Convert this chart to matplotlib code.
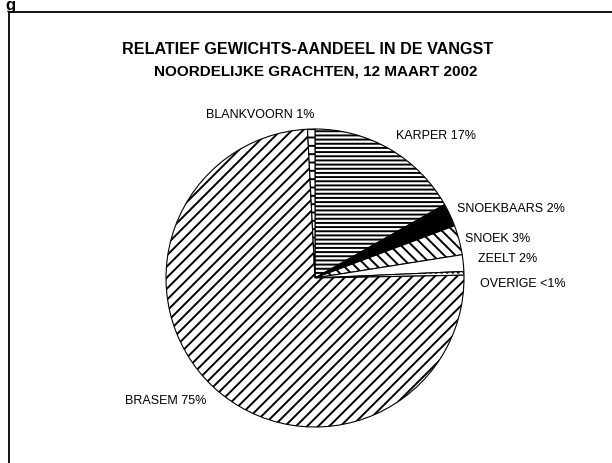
import numpy as np
import matplotlib
matplotlib.use("Agg")
import matplotlib.pyplot as plt
from matplotlib.lines import Line2D

plt.rcParams['font.family'] = ['Liberation Sans', 'DejaVu Sans']
plt.rcParams['hatch.linewidth'] = 1.4

# weight share per species, clockwise from 12 o'clock
species = ["KARPER", "SNOEKBAARS", "SNOEK", "ZEELT", "OVERIGE", "BRASEM", "BLANKVOORN"]
share = [16.8, 2.5, 3.2, 1.8, 0.4, 74.5, 0.8]
pct_text = ["17%", "2%", "3%", "2%", "<1%", "75%", "1%"]

hatches = ["----", "", "\\\\\\", "", "...", "///", "--"]
fills = ["white", "black", "white", "white", "white", "white", "white"]
# small nudges (pixels) so labels sit like the original, which spreads crowded ones
nudge = [(-2, 1), (-7, 1), (-8, -2), (0, 4), (1, -10), (3, -2), (4, 0)]

W, H = 612, 464
fig = plt.figure(figsize=(W / 100, H / 100), dpi=100)

# pie centre (315, 279) px, radius 149 px
cx, cy, r = 315, 279, 149
ax = fig.add_axes([(cx - r) / W, (H - cy - r) / H, 2 * r / W, 2 * r / H])
wedges, _ = ax.pie(share, startangle=90, counterclock=False, radius=1,
                   colors=fills,
                   wedgeprops=dict(edgecolor="black", linewidth=0.8))
for w, h in zip(wedges, hatches):
    w.set_hatch(h)
ax.set_xlim(-1, 1)
ax.set_ylim(-1, 1)
ax.set_aspect("equal")
ax.axis("off")

# labels just outside each wedge
for w, name, p, d in zip(wedges, species, pct_text, nudge):
    mid = np.deg2rad((w.theta1 + w.theta2) / 2)
    x, y = 1.1 * np.cos(mid), 1.1 * np.sin(mid)
    ha = "left" if x >= 0 else "right"
    ax.annotate(f"{name} {p}", (x, y), xytext=d, textcoords="offset pixels",
                ha=ha, va="center", fontsize=9, annotation_clip=False)

fig.text(0.502, 1 - 50 / H, "RELATIEF GEWICHTS-AANDEEL IN DE VANGST",
         ha="center", va="center", fontsize=11.6, fontweight="bold")
fig.text(0.516, 1 - 72 / H, "NOORDELIJKE GRACHTEN, 12 MAART 2002",
         ha="center", va="center", fontsize=11.0, fontweight="bold")

# chart frame (only left and top edge visible in the crop)
fig.add_artist(Line2D([9 / W, 9 / W], [0, 1 - 13 / H], color="black", lw=1.3))
fig.add_artist(Line2D([9 / W, 1], [1 - 13 / H, 1 - 13 / H], color="black", lw=1.3))
fig.text(5 / W, 1 + 2 / H, "g", ha="left", va="top", fontsize=12, fontweight="bold")

fig.savefig("out.png", dpi=100)
